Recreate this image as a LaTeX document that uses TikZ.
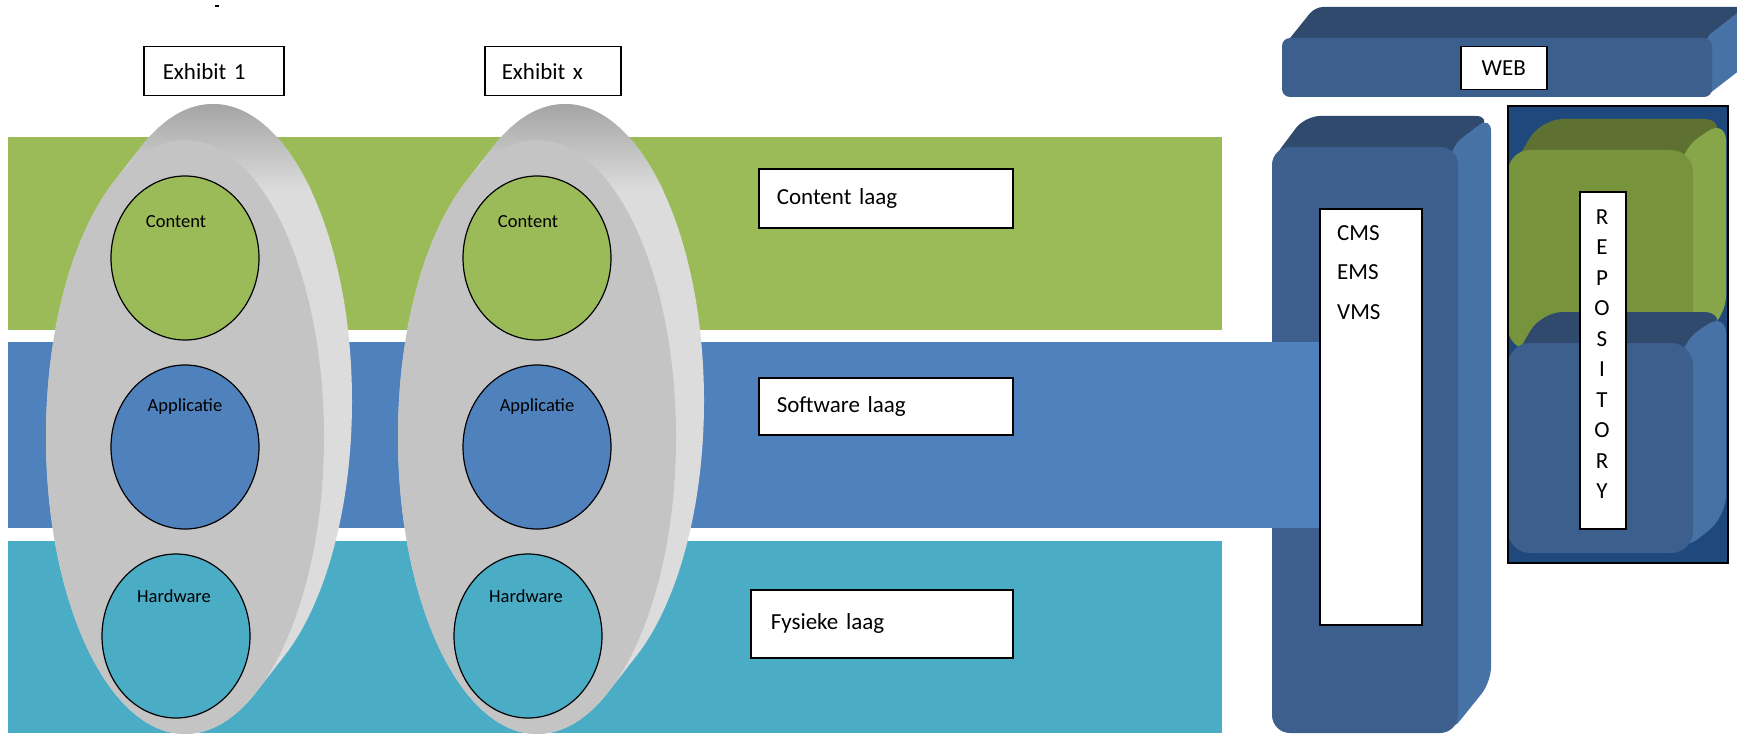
\documentclass[tikz,border=0pt]{standalone}
\usepackage{fontspec}
\setmainfont{Carlito}
\usepackage{tikz}
\usetikzlibrary{shapes,positioning,calc}

\definecolor{contentgreen}{HTML}{9BBB59}
\definecolor{softblue}{HTML}{4F81BD}
\definecolor{physteal}{HTML}{4BACC6}
\definecolor{shellfront}{HTML}{C4C4C4}
\definecolor{shellside}{HTML}{DCDCDC}
\definecolor{shelltop}{HTML}{A2A2A2}
\definecolor{blockfront}{HTML}{3C5F8D}
\definecolor{blocktop}{HTML}{2F4A6D}
\definecolor{blockside}{HTML}{4672A6}
\definecolor{repoback}{HTML}{1F497D}
\definecolor{greenfront}{HTML}{77933C}
\definecolor{greentop}{HTML}{5E7133}
\definecolor{greenside}{HTML}{87A64A}

\begin{document}
\begin{tikzpicture}[x=1bp, y=-1bp,
    layer/.style={ellipse, draw=black, line width=1.2bp, minimum width=148bp, minimum height=164bp, inner sep=0pt},
    layertxt/.style={font=\fontsize{18.5bp}{22bp}\selectfont, inner sep=0pt},
    lbl/.style={draw=black, fill=white, line width=1.5bp, anchor=north west, inner ysep=0pt, align=left, font=\fontsize{23bp}{28bp}\selectfont},
    txt/.style={font=\fontsize{23bp}{28bp}\selectfont, inner sep=0pt}]
    \useasboundingbox (0,0) rectangle (1737,734);

    % small mark at the top
    \draw[line width=1.2bp] (215,6) -- (219,6);

    % CMS column
    \fill[blocktop, rounded corners=15bp] (1272,160) -- (1305,116) -- (1491,116) -- (1458,160) -- cycle;
    \fill[blockside, rounded corners=15bp] (1450,147) -- (1491,116) -- (1491,682) -- (1450,733) -- cycle;
    \fill[blockfront, rounded corners=18bp] (1272,147) rectangle (1458,733);

    % Layers
    \fill[contentgreen] (8,137) rectangle (1222,330);
    \fill[softblue] (8,342) rectangle (1319,528);
    \fill[physteal] (8,541) rectangle (1222,733);

    % Exhibits
    \foreach \n/\dx in {1/0, x/352} {
        \begin{scope}[xshift=\dx bp]
            \fill[shellside] foreach \t in {0,...,10} {(185+2.8*\t, 437-3.6*\t) ellipse [x radius=139, y radius=297]};
            \begin{scope}
                \clip foreach \t in {0,...,10} {(185+2.8*\t, 437-3.6*\t) ellipse [x radius=139, y radius=297]};
                \shade[top color=shelltop, bottom color=shellside] (40,100) rectangle (380,190);
            \end{scope}
            \fill[shellfront] (185,437) ellipse [x radius=139, y radius=297];
            \node[layer, fill=contentgreen] (cont\n) at (185,258) {};
            \node[layer, fill=softblue] (app\n) at (185,447) {};
            \node[layer, fill=physteal] (hard\n) at (176,636) {};
            \node[layertxt] (contt\n) at ([xshift=-9bp, yshift=-46bp]cont\n.north) {Content};
            \node[layertxt] (appt\n) at ([yshift=-42bp]app\n.north) {Applicatie};
            \node[layertxt] (hardt\n) at ([xshift=-2bp, yshift=-43bp]hard\n.north) {Hardware};
        \end{scope}
    }
    \node[lbl, text width=102bp, inner xsep=19bp, minimum height=49bp] (ex1) at (143,46) {Exhibit 1};
    \node[lbl, text width=102bp, inner xsep=17bp, minimum height=49bp] (exx) at (484,46) {Exhibit x};

    % Layer names
    \node[lbl, text width=218bp, inner xsep=18bp, minimum height=59bp] (contlaag) at (758,168) {Content laag};
    \node[lbl, text width=218bp, inner xsep=18bp, minimum height=57bp] (softlaag) at (758,377) {Software laag};
    \node[lbl, text width=222bp, inner xsep=20bp, minimum height=68bp] (fyslaag) at (750,589) {Fysieke laag};

    % CMS box
    \node[lbl, minimum width=102bp, minimum height=416bp, inner sep=0pt] (cms) at (1319,208) {};
    \foreach \s [count=\i from 0] in {CMS,EMS,VMS}
        \node[txt, anchor=west] (sys\i) at (1337, 233+39.5*\i) {\s};

    % WEB slab
    \fill[blocktop, rounded corners=8bp] (1282,48) -- (1315,7) -- (1745,7) -- (1712,48) -- cycle;
    \fill[blockside, rounded corners=8bp] (1705,38) -- (1745,7) -- (1745,66) -- (1705,97) -- cycle;
    \fill[blockfront, rounded corners=8bp] (1282,38) rectangle (1712,97);
    \node[lbl, align=center, text width=86bp, inner xsep=0pt, minimum height=43bp] (web) at (1460,46) {WEB};

    % Repository
    \fill[repoback] (1508,106) rectangle (1728,563);
    \begin{scope}
        \clip (1508,106) rectangle (1728,563);
        \fill[greentop, rounded corners=22bp] (1508,175) -- (1541,119) -- (1726,119) -- (1693,175) -- cycle;
        \fill[greenside, rounded corners=22bp] (1680,150) -- (1726,119) -- (1726,318) -- (1680,350) -- cycle;
        \fill[greenfront, rounded corners=22bp] (1508,150) rectangle (1693,350);
        \fill[blocktop, rounded corners=22bp] (1508,370) -- (1541,312) -- (1726,312) -- (1693,370) -- cycle;
        \fill[blockside, rounded corners=22bp] (1680,343) -- (1726,312) -- (1726,517) -- (1680,553) -- cycle;
        \fill[blockfront, rounded corners=22bp] (1508,343) rectangle (1693,553);
    \end{scope}
    \draw[line width=1.5bp] (1508,106) rectangle (1728,563);
    \node[lbl, minimum width=46bp, minimum height=337bp, inner sep=0pt] (repo) at (1579,191) {};
    \foreach \ch [count=\i from 0] in {R,E,P,O,S,I,T,O,R,Y}
        \node[txt] (rep\i) at (1602, 217+30.5*\i) {\ch};
\end{tikzpicture}
\end{document}
